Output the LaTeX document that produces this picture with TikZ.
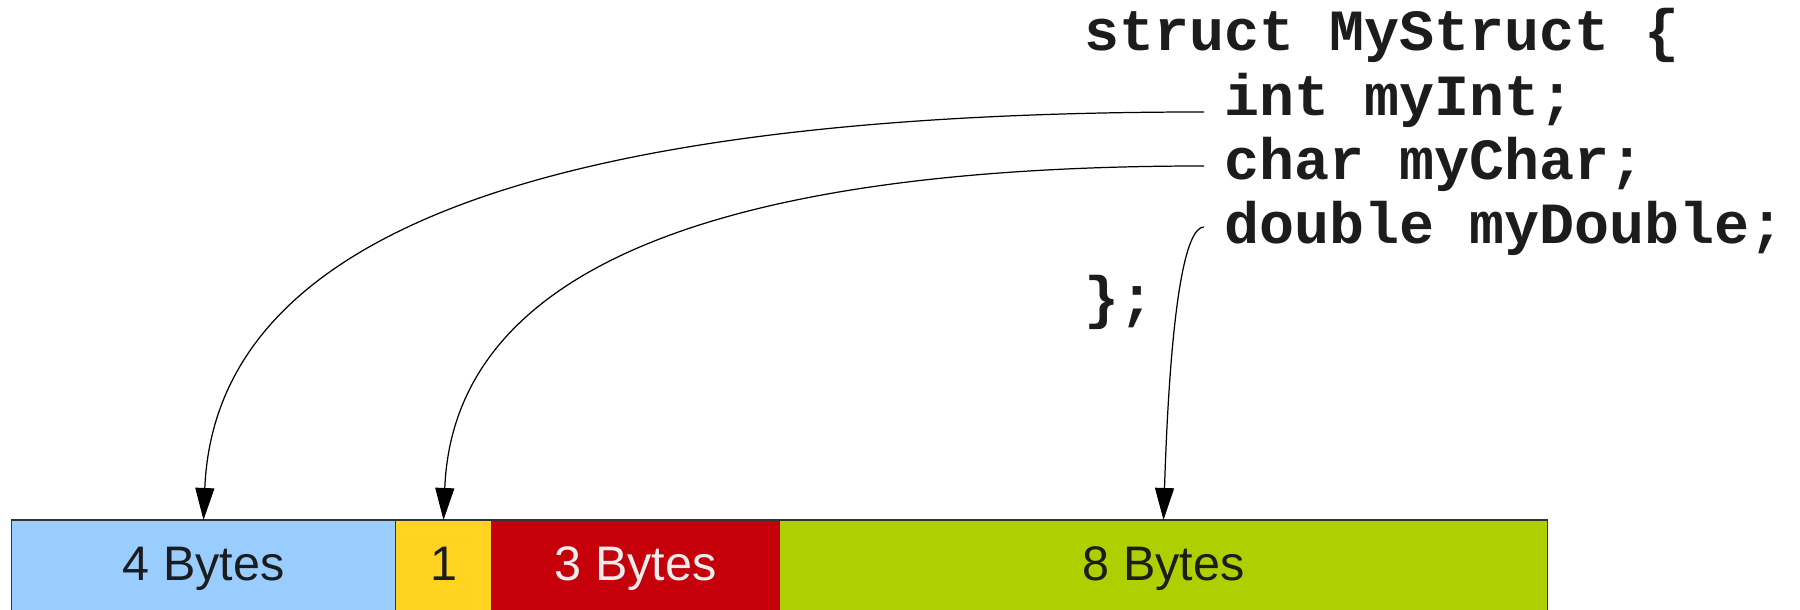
\documentclass[tikz,border=0pt]{standalone}
\usepackage{fontspec}
\setmainfont{Liberation Sans}
\setmonofont{Liberation Mono}
\usetikzlibrary{positioning,arrows.meta}

\definecolor{intblue}{HTML}{99CCFF}
\definecolor{charyellow}{HTML}{FFD320}
\definecolor{padred}{HTML}{C5000B}
\definecolor{dblgreen}{HTML}{AECF00}
\definecolor{inkgray}{HTML}{1C1C1C}

\tikzstyle{cell}=[rectangle, draw=black!80, line width=0.45pt, minimum height=0.95cm,
        inner sep=0pt, outer sep=0pt, text centered, text=inkgray,
        text height=0.75em, text depth=0.03em,
        font=\fontsize{13.8pt}{16pt}\selectfont]
\tikzstyle{code}=[inner sep=0pt, anchor=base west, text=inkgray,
        font=\ttfamily\bfseries\fontsize{16.6pt}{20pt}\selectfont]
\tikzstyle{link}=[draw=black, line width=0.35pt, -{Triangle[length=3.2mm,width=1.9mm]}]

\begin{document}
\begin{tikzpicture}[node distance=0cm]
        \useasboundingbox (0,0) rectangle (18,6.1);
        % the struct source
        \node (head) [code] at (10.84,5.59) {struct MyStruct \{};
        \node (int) [code] at ([xshift=1.4cm, yshift=-0.65cm]head.base west) {int myInt;};
        \node (char) [code] at ([yshift=-0.64cm]int.base west) {char myChar;};
        \node (dbl) [code] at ([yshift=-0.64cm]char.base west) {double myDouble;};
        \node (tail) [code] at ([yshift=-0.74cm]head.base west |- dbl.base) {\};};
        % the memory layout
        \node (intbytes) [cell, fill=intblue, minimum width=3.84cm, anchor=south west] at (0.115,-0.05) {4 Bytes};
        \node (charbyte) [cell, fill=charyellow, minimum width=0.96cm, right=of intbytes] {1};
        \node (padbytes) [cell, fill=padred, minimum width=2.88cm, right=of charbyte, text=black!7] {3 Bytes};
        \node (dblbytes) [cell, fill=dblgreen, minimum width=7.68cm, right=of padbytes] {8 Bytes};
        % member to field
        \draw[link] ([xshift=-2mm, yshift=0.4mm]int.base west) .. controls +(-6.5,0) and +(0.12,2.9) .. (intbytes.north);
        \draw[link] ([xshift=-2mm, yshift=1.4mm]char.base west) .. controls +(-4.9,0) and +(0.1,2.5) .. (charbyte.north);
        \draw[link] ([xshift=-2mm, yshift=1.7mm]dbl.base west) .. controls +(-0.18,0) and +(0.07,2.2) .. (dblbytes.north);
\end{tikzpicture}
\end{document}
